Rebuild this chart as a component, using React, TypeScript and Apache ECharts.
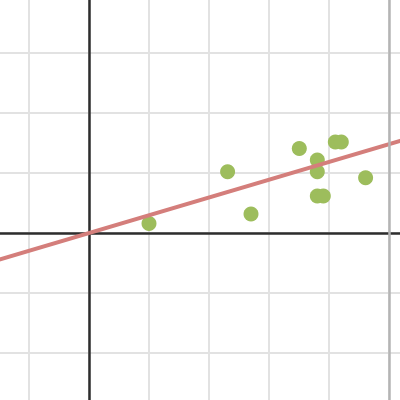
import React, { useEffect, useRef } from "react";
import * as echarts from "echarts";

const pointsX = [1.0, 2.31, 2.7, 3.505, 3.805, 3.805, 3.805, 3.905, 4.105, 4.205, 4.61];
const pointsY = [0.16, 1.02, 0.317, 1.41, 1.217, 1.02, 0.617, 0.617, 1.517, 1.517, 0.92];
const fitSlope = 0.296;
const fitRangeX = [-2, 6];
const markerX = [5];

export default function App() {
  const ref = useRef<HTMLDivElement>(null);
  useEffect(() => {
    if (!ref.current) return;
    const chart = echarts.init(ref.current, undefined, { renderer: "svg" });
    const pts = pointsX.map((x, i) => [x, pointsY[i]]);
    const lineData = fitRangeX.map((x) => [x, fitSlope * x]);
    chart.setOption({
      animation: false,
      backgroundColor: "#ffffff",
      grid: { left: 0, right: 0, top: 0, bottom: 0, containLabel: false },
      xAxis: {
        type: "value",
        min: -2,
        max: 6,
        interval: 1,
        z: 2,
        axisLine: { onZero: true, lineStyle: { color: "#2d2d2d", width: 2.5 } },
        axisTick: { show: false },
        axisLabel: { show: false },
        splitLine: { show: true, lineStyle: { color: "#e2e2e2", width: 2 } },
      },
      yAxis: {
        type: "value",
        min: -3,
        max: 4,
        interval: 1,
        z: 2,
        axisLine: { onZero: true, lineStyle: { color: "#2d2d2d", width: 2.5 } },
        axisTick: { show: false },
        axisLabel: { show: false },
        splitLine: { show: true, lineStyle: { color: "#e2e2e2", width: 2 } },
      },
      series: [
        {
          type: "scatter",
          data: pts,
          symbolSize: 15,
          itemStyle: { color: "#9dbd5c", opacity: 1 },
          z: 3,
          markLine: {
            silent: true,
            symbol: "none",
            label: { show: false },
            lineStyle: { color: "#b4b4b4", width: 2.5, type: "solid" },
            data: markerX.map((x) => ({ xAxis: x })),
          },
        },
        {
          type: "line",
          data: lineData,
          showSymbol: false,
          symbol: "none",
          lineStyle: { color: "#d47e7b", width: 4 },
          z: 4,
        },
      ],
    });
    return () => chart.dispose();
  }, []);
  return (
    <div
      ref={ref}
      style={{ position: "fixed", left: -31, top: -7, width: 480, height: 420 }}
    />
  );
}
